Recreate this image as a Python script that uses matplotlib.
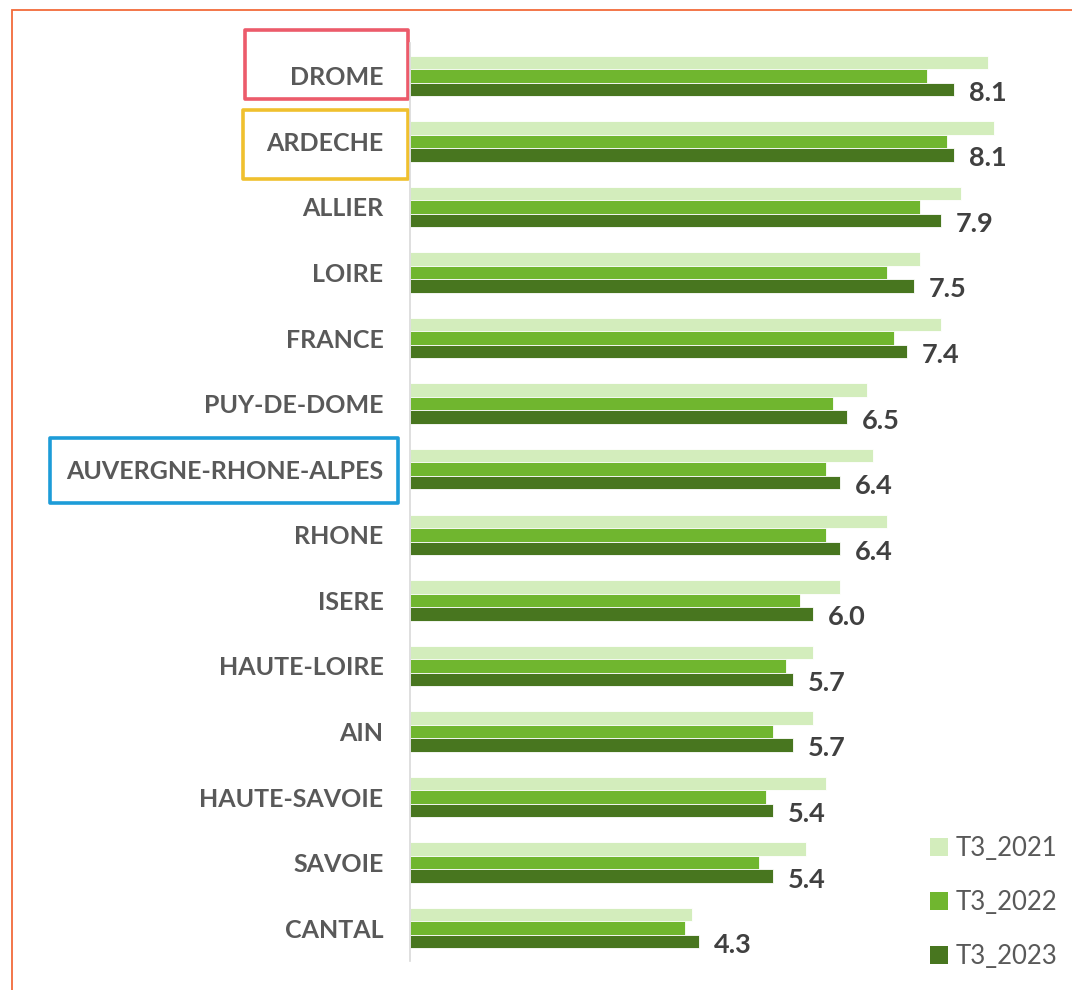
import numpy as np
import matplotlib.pyplot as plt
from matplotlib.patches import Rectangle, Patch

# donnees
departements = ['DROME', 'ARDECHE', 'ALLIER', 'LOIRE', 'FRANCE', 'PUY-DE-DOME',
                'AUVERGNE-RHONE-ALPES', 'RHONE', 'ISERE', 'HAUTE-LOIRE', 'AIN',
                'HAUTE-SAVOIE', 'SAVOIE', 'CANTAL']
t3_2021 = [8.6, 8.7, 8.2, 7.6, 7.9, 6.8, 6.9, 7.1, 6.4, 6.0, 6.0, 6.2, 5.9, 4.2]
t3_2022 = [7.7, 8.0, 7.6, 7.1, 7.2, 6.3, 6.2, 6.2, 5.8, 5.6, 5.4, 5.3, 5.2, 4.1]
t3_2023 = [8.1, 8.1, 7.9, 7.5, 7.4, 6.5, 6.4, 6.4, 6.0, 5.7, 5.7, 5.4, 5.4, 4.3]
series = ['T3_2021', 'T3_2022', 'T3_2023']
couleurs = ['#D3EDBC', '#70B62F', '#48761F']

plt.rcParams['font.family'] = ['Lato', 'DejaVu Sans']

W, H = 1072, 990
fig = plt.figure(figsize=(W / 100, H / 100), dpi=100)
ax = fig.add_axes([410 / W, (H - 961) / H, 638 / W, 918 / H])

y = np.arange(len(departements))
h = 0.206
for k, vals in enumerate([t3_2021, t3_2022, t3_2023]):
    ax.barh(y + (k - 1) * h, vals, height=h, color=couleurs[k],
            edgecolor='white', linewidth=0.6, label=series[k])

for i, v in enumerate(t3_2023):
    ax.annotate(f'{v:.1f}', (v, y[i] + h), xytext=(11, -2.5), textcoords='offset points',
                va='center', ha='left', fontsize=19.5, fontweight='bold', color='#404040')

ax.set_xlim(0, 9.5)
ax.set_ylim(len(departements) - 0.5, -0.5)
ax.set_yticks(y)
ax.set_yticklabels(departements, fontsize=18, fontweight='bold', color='#595959')
ax.tick_params(axis='y', length=0, pad=19)
ax.set_xticks([])
for s in ['top', 'right', 'bottom']:
    ax.spines[s].set_visible(False)
ax.spines['left'].set_color('#D9D9D9')
ax.spines['left'].set_linewidth(1.2)

# cadres de mise en evidence
cadres = [(0, '#EC5B6B', -0.2586, -0.70, 0.35),
          (1, '#F0C02E', -0.2618, -0.48, 0.57),
          (6, '#1D9CD8', -0.564, -0.48, 0.52)]
for idx, col, x0, dy0, dy1 in cadres:
    x1 = -0.003 if idx < 2 else -0.019
    r = Rectangle((x0, idx + dy0), x1 - x0, dy1 - dy0,
                  transform=ax.get_yaxis_transform(), fill=False, edgecolor=col,
                  linewidth=2.6, joinstyle='round', clip_on=False)
    ax.add_patch(r)

# legende
handles = [Patch(facecolor=c, edgecolor='none') for c in couleurs]
fig.legend(handles, series, loc='upper left', bbox_to_anchor=(920 / W, 1 - 826 / H),
           frameon=False, fontsize=18.5, labelcolor='#595959', handlelength=0.7,
           handleheight=0.7, handletextpad=0.3, labelspacing=1.12, borderaxespad=0)

# bordure orange
fig.patches.append(Rectangle((12 / W, -0.05), 1.1, 1 - 10 / H + 0.05,
                             transform=fig.transFigure, fill=False,
                             edgecolor='#F26B3A', linewidth=1.3))

plt.savefig('out.png', dpi=100)
